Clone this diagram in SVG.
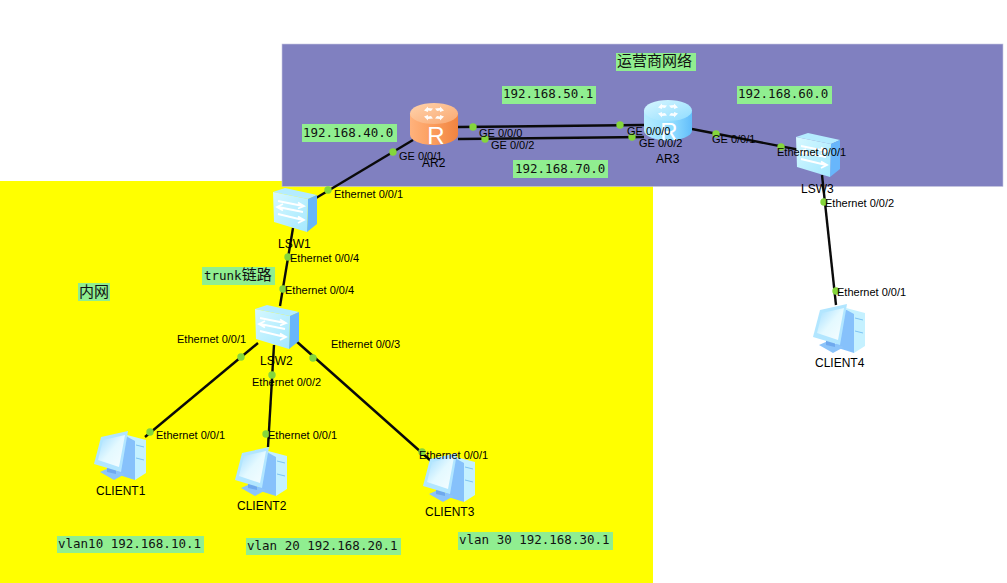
<svg xmlns="http://www.w3.org/2000/svg" width="1007" height="583" viewBox="0 0 1007 583">
  <style>
    .bg { fill: #ffffff; }
    .link { fill: none; stroke: #0a0a0a; stroke-width: 2.4; }
    .port { fill: #84d63c; }
    .tag { fill: #90ee90; }
    .mono { font: 12.5px "DejaVu Sans Mono", "Noto Sans CJK SC", monospace; fill: #111111; }
    .zh { font: 15px "DejaVu Sans Mono", "Noto Sans CJK SC", monospace; fill: #111111; }
    .if { font: 11px "Liberation Sans", Arial, sans-serif; fill: #000000; }
    .name { font: 12px "Liberation Sans", Arial, sans-serif; fill: #000000; }
    .rmark { font: 24px "Liberation Sans", Arial, sans-serif; text-anchor: middle; }
  </style>
  <defs>
    <linearGradient id="orangeBody" x1="0" x2="1" y1="0" y2="0">
      <stop offset="0" stop-color="#ffb27c"/>
      <stop offset="0.5" stop-color="#fb9c5c"/>
      <stop offset="1" stop-color="#f08440"/>
    </linearGradient>
    <linearGradient id="orangeTop" x1="0" x2="1" y1="0" y2="1">
      <stop offset="0" stop-color="#ffd3ac"/>
      <stop offset="1" stop-color="#f9a871"/>
    </linearGradient>
    <linearGradient id="blueBody" x1="0" x2="1" y1="0" y2="0">
      <stop offset="0" stop-color="#b5ecff"/>
      <stop offset="0.6" stop-color="#8fdcff"/>
      <stop offset="1" stop-color="#62bdfb"/>
    </linearGradient>
    <linearGradient id="blueTop" x1="0" x2="1" y1="0" y2="1">
      <stop offset="0" stop-color="#d8f7ff"/>
      <stop offset="1" stop-color="#8fdcff"/>
    </linearGradient>
    <linearGradient id="switchFace" x1="0" x2="1" y1="0" y2="1">
      <stop offset="0" stop-color="#d6f8ff"/>
      <stop offset="1" stop-color="#a4e8ff"/>
    </linearGradient>
    <linearGradient id="screenFace" x1="0" x2="1" y1="0" y2="1">
      <stop offset="0" stop-color="#9fdcff"/>
      <stop offset="0.5" stop-color="#e4f9ff"/>
      <stop offset="1" stop-color="#f6fdff"/>
    </linearGradient>
    <g id="routerLogo" fill="#ffffff" opacity="0.95">
      <path d="M-10 -3 L-6 -7 L-6 -5.4 L-1 -5 L-3 -2.6 L-6 -3 L-6 -1.6 Z"/>
      <path d="M10 -3 L6 -7 L6 -5.4 L1 -5 L3 -2.6 L6 -3 L6 -1.6 Z"/>
      <path d="M-10 3 L-6 7 L-6 5.4 L-1 5 L-3 2.6 L-6 3 L-6 1.6 Z"/>
      <path d="M10 3 L6 7 L6 5.4 L1 5 L3 2.6 L6 3 L6 1.6 Z"/>
    </g>
    <g id="switchIcon">
      <polygon points="0,4 12,0 44,7 35,11" fill="#b4ecff"/>
      <polygon points="35,11 44,7 44,36 34,44" fill="#68b6fb"/>
      <polygon points="0,4 35,11 34,44 1,34" fill="url(#switchFace)"/>
      <g fill="none" stroke="#ffffff" stroke-width="1.8">
        <path d="M5 13 L30 18 M25 14.5 L31 18 L25 20.5"/>
        <path d="M30 24 L5 19 M10 16 L4 19 L10 22.5"/>
        <path d="M5 26 L30 32 M25 28.5 L31 32 L25 35"/>
      </g>
    </g>
    <g id="pcIcon">
      <polygon points="33,5 52,10 52,43 41,50" fill="#c5f1ff"/>
      <polygon points="30,5 41,11 41,50 22,44" fill="#86c1fb"/>
      <path d="M42 15 L50 17 M42 28 L50 30" stroke="#7ec4f4" stroke-width="1" fill="none"/>
      <polygon points="6,42 15,38 31,44 20,50" fill="#8cc4fa"/>
      <polygon points="13,36 22,38 22,44 13,42" fill="#6fa9ee"/>
      <polygon points="0,34 7,7 34,1 27,42" fill="#b2e6ff"/>
      <polygon points="4,30 9,10 31,5 25,37" fill="url(#screenFace)"/>
    </g>
  </defs>

  <rect class="bg" width="1007" height="583"/>
  <rect x="0" y="181" width="653" height="402" fill="#ffff00"/>
  <rect x="282" y="44" width="721" height="142.5" fill="#8080c0" stroke="#c8c8e0" stroke-width="0.6"/>

  <g id="links">
    <path class="link" d="M413 140 L316 198"/>
    <path class="link" d="M458 127 L644 125"/>
    <path class="link" d="M458 139 L644 137"/>
    <path class="link" d="M692 129 L800 150"/>
    <path class="link" d="M293 228 L280 306"/>
    <path class="link" d="M258 343 L145 437"/>
    <path class="link" d="M274 345 L268 447"/>
    <path class="link" d="M296 341 L431 461"/>
    <path class="link" d="M822 175 L836 305"/>
  </g>

  <g id="ports">
    <circle class="port" cx="393" cy="152" r="3.7"/>
    <circle class="port" cx="328" cy="190" r="3.7"/>
    <circle class="port" cx="473" cy="127" r="3.7"/>
    <circle class="port" cx="620" cy="125" r="3.7"/>
    <circle class="port" cx="485" cy="139" r="3.7"/>
    <circle class="port" cx="632" cy="137" r="3.7"/>
    <circle class="port" cx="716" cy="134" r="3.7"/>
    <circle class="port" cx="781" cy="147" r="3.7"/>
    <circle class="port" cx="288" cy="257" r="3.7"/>
    <circle class="port" cx="283" cy="289" r="3.7"/>
    <circle class="port" cx="241" cy="357" r="3.7"/>
    <circle class="port" cx="272" cy="375" r="3.7"/>
    <circle class="port" cx="313" cy="358" r="3.7"/>
    <circle class="port" cx="150" cy="432" r="3.7"/>
    <circle class="port" cx="266" cy="434" r="3.7"/>
    <circle class="port" cx="422" cy="452" r="3.7"/>
    <circle class="port" cx="824" cy="202" r="3.7"/>
    <circle class="port" cx="836" cy="291" r="3.7"/>
  </g>

  <g id="AR2">
    <path d="M410 113.5 V134.5 A24 10.5 0 0 0 458 134.5 V113.5 Z" fill="url(#orangeBody)"/>
    <ellipse cx="434" cy="113.5" rx="24" ry="10.5" fill="url(#orangeTop)"/>
    <use href="#routerLogo" x="434" y="113.5"/>
    <text class="rmark" x="436" y="144" fill="#ffffff">R</text>
    <text class="name" x="422" y="167">AR2</text>
  </g>
  <g id="AR3">
    <path d="M644 110.5 V130.5 A24 10 0 0 0 692 130.5 V110.5 Z" fill="url(#blueBody)"/>
    <ellipse cx="668" cy="110.5" rx="24" ry="10.5" fill="url(#blueTop)"/>
    <use href="#routerLogo" x="668" y="110.5"/>
    <text class="rmark" x="669" y="140" fill="#ffffff">R</text>
    <text class="name" x="656" y="163">AR3</text>
  </g>
  <g id="LSW1">
    <use href="#switchIcon" x="273" y="188"/>
    <text class="name" x="278" y="248">LSW1</text>
  </g>
  <g id="LSW2">
    <use href="#switchIcon" x="255" y="305"/>
    <text class="name" x="260" y="365">LSW2</text>
  </g>
  <g id="LSW3">
    <use href="#switchIcon" x="796" y="133"/>
    <text class="name" x="801" y="193">LSW3</text>
  </g>
  <g id="CLIENT1">
    <use href="#pcIcon" x="94" y="430"/>
    <text class="name" x="96" y="495">CLIENT1</text>
  </g>
  <g id="CLIENT2">
    <use href="#pcIcon" x="235" y="446"/>
    <text class="name" x="237" y="510">CLIENT2</text>
  </g>
  <g id="CLIENT3">
    <use href="#pcIcon" x="423" y="452"/>
    <text class="name" x="425" y="516">CLIENT3</text>
  </g>
  <g id="CLIENT4">
    <use href="#pcIcon" x="813" y="303"/>
    <text class="name" x="815" y="367">CLIENT4</text>
  </g>

  <g id="interface-labels">
    <text class="if" x="399" y="160">GE 0/0/1</text>
    <text class="if" x="479" y="137">GE 0/0/0</text>
    <text class="if" x="491" y="149">GE 0/0/2</text>
    <text class="if" x="627" y="135">GE 0/0/0</text>
    <text class="if" x="639" y="147">GE 0/0/2</text>
    <text class="if" x="712" y="143">GE 0/0/1</text>
    <text class="if" x="777" y="156">Ethernet 0/0/1</text>
    <text class="if" x="825" y="207">Ethernet 0/0/2</text>
    <text class="if" x="334" y="198">Ethernet 0/0/1</text>
    <text class="if" x="290" y="262">Ethernet 0/0/4</text>
    <text class="if" x="285" y="294">Ethernet 0/0/4</text>
    <text class="if" x="177" y="343">Ethernet 0/0/1</text>
    <text class="if" x="331" y="348">Ethernet 0/0/3</text>
    <text class="if" x="252" y="386">Ethernet 0/0/2</text>
    <text class="if" x="156" y="439">Ethernet 0/0/1</text>
    <text class="if" x="268" y="439">Ethernet 0/0/1</text>
    <text class="if" x="419" y="459">Ethernet 0/0/1</text>
    <text class="if" x="837" y="296">Ethernet 0/0/1</text>
  </g>

  <g id="notes">
    <rect class="tag" x="616" y="53" width="80" height="18"/>
    <text class="zh" x="617" y="66">运营商网络</text>
    <rect class="tag" x="302" y="124" width="95" height="18"/>
    <text class="mono" x="303" y="137">192.168.40.0</text>
    <rect class="tag" x="502" y="86" width="94" height="18"/>
    <text class="mono" x="503" y="98">192.168.50.1</text>
    <rect class="tag" x="737" y="86" width="95" height="18"/>
    <text class="mono" x="738" y="98">192.168.60.0</text>
    <rect class="tag" x="513" y="160" width="95" height="18"/>
    <text class="mono" x="515" y="173">192.168.70.0</text>
    <rect class="tag" x="202" y="267" width="73" height="18"/>
    <text class="mono" x="204" y="280">trunk<tspan style="font-size:15px">链路</tspan></text>
    <rect class="tag" x="78" y="283" width="32" height="18"/>
    <text class="zh" x="79" y="297">内网</text>
    <rect class="tag" x="57" y="536" width="147" height="17"/>
    <text class="mono" x="58" y="548">vlan10 192.168.10.1</text>
    <rect class="tag" x="246" y="538" width="155" height="17"/>
    <text class="mono" x="247" y="550">vlan 20 192.168.20.1</text>
    <rect class="tag" x="458" y="532" width="155" height="18"/>
    <text class="mono" x="459" y="544">vlan 30 192.168.30.1</text>
  </g>
</svg>
